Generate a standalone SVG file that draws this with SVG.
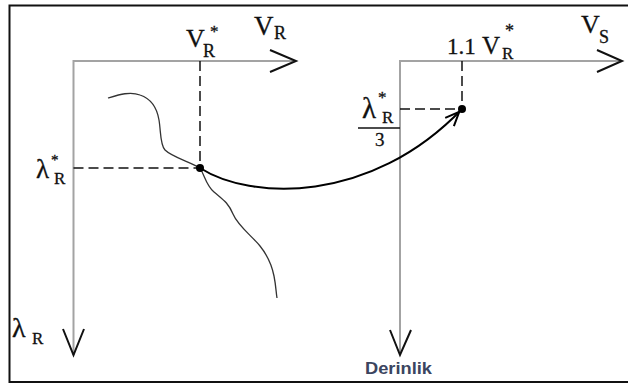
<svg xmlns="http://www.w3.org/2000/svg" width="628" height="383" viewBox="0 0 628 383">
<style>
.axis{stroke:#a3a3a3;stroke-width:2;fill:none}
.head{stroke:#111;stroke-width:2;fill:none;stroke-linejoin:miter}
.dash{stroke:#111;stroke-width:1.5;stroke-dasharray:10 5;fill:none}
.t{font-family:"Liberation Serif","Times New Roman",serif;fill:#111;stroke:#111;stroke-width:0.3}
.dot{fill:#000}
</style>
<defs>
<marker id="ah" markerUnits="userSpaceOnUse" markerWidth="30" markerHeight="30" viewBox="-20 -10 30 20" refX="4" refY="0" orient="auto">
<path d="M-14,-6 L0,0 L-14,6" fill="none" stroke="#000" stroke-width="2"/>
</marker>
</defs>
<rect width="628" height="383" fill="#fff"/>
<rect id="frame" x="9.5" y="5.5" width="630" height="376.5" fill="none" stroke="#111" stroke-width="2"/>

<g id="left-chart">
<path class="axis" d="M73.5,355 V61 H296"/>
<path class="head" d="M270,50 L296,61 L270,72"/>
<path class="head" d="M63,329 L73.5,355 L84,329"/>
<path class="dash" d="M200,61 V168 M73.5,168 H200"/>
<path d="M108,98 C118,95 130,91 140,95 C152,99 157,108 159,120 C161,132 160,145 165,150 C172,157 190,162 200,168 C205,176 206,185 214,192 C222,199 228,202 233,214 C238,226 252,236 260,246 C268,256 272,266 274,276 C276,286 276,292 277,298" fill="none" stroke="#333" stroke-width="1.3"/>
<circle class="dot" cx="200" cy="168" r="4"/>
<text class="t"><tspan x="186" y="47" font-size="26">V</tspan><tspan x="203" y="57" font-size="18">R</tspan><tspan x="210" y="37" font-size="17">*</tspan></text>
<text class="t"><tspan x="254" y="35" font-size="27">V</tspan><tspan x="274" y="39" font-size="18">R</tspan></text>
<text class="t"><tspan x="36" y="178" font-size="27">λ</tspan><tspan x="51" y="165" font-size="15">*</tspan><tspan x="54" y="184" font-size="17">R</tspan></text>
<text class="t"><tspan x="12" y="337" font-size="28">λ</tspan><tspan x="32" y="344" font-size="17">R</tspan></text>
</g>

<g id="right-chart">
<path class="axis" d="M400,355 V61 H622"/>
<path class="head" d="M597,50 L622,61 L597,72"/>
<path class="head" d="M390,330 L400,355 L411,330"/>
<path class="dash" d="M462,61 V109 M400,109 H462"/>
<circle class="dot" cx="462" cy="109" r="4"/>
<text class="t"><tspan x="447" y="54" font-size="23">1.1</tspan><tspan x="482" y="54" font-size="25">V</tspan><tspan x="502" y="59" font-size="17">R</tspan><tspan x="505" y="37" font-size="18">*</tspan></text>
<text class="t"><tspan x="581" y="33" font-size="26">V</tspan><tspan x="599" y="43" font-size="18">S</tspan></text>
<text class="t"><tspan x="362" y="118" font-size="29">λ</tspan><tspan x="378" y="103" font-size="17">*</tspan><tspan x="382" y="123" font-size="17">R</tspan></text>
<line x1="358" y1="128" x2="400" y2="128" stroke="#111" stroke-width="1.5"/>
<text class="t" x="375" y="146" font-size="19">3</text>
<text x="365" y="374" font-family="Liberation Sans, Arial, sans-serif" font-weight="bold" font-size="17" fill="#3b4560" textLength="67" lengthAdjust="spacingAndGlyphs">Derinlik</text>
</g>

<g id="connectors">
<path d="M200,168 C250,200 370,205 462,109" fill="none" stroke="#000" stroke-width="2" marker-end="url(#ah)"/>
</g>
</svg>
